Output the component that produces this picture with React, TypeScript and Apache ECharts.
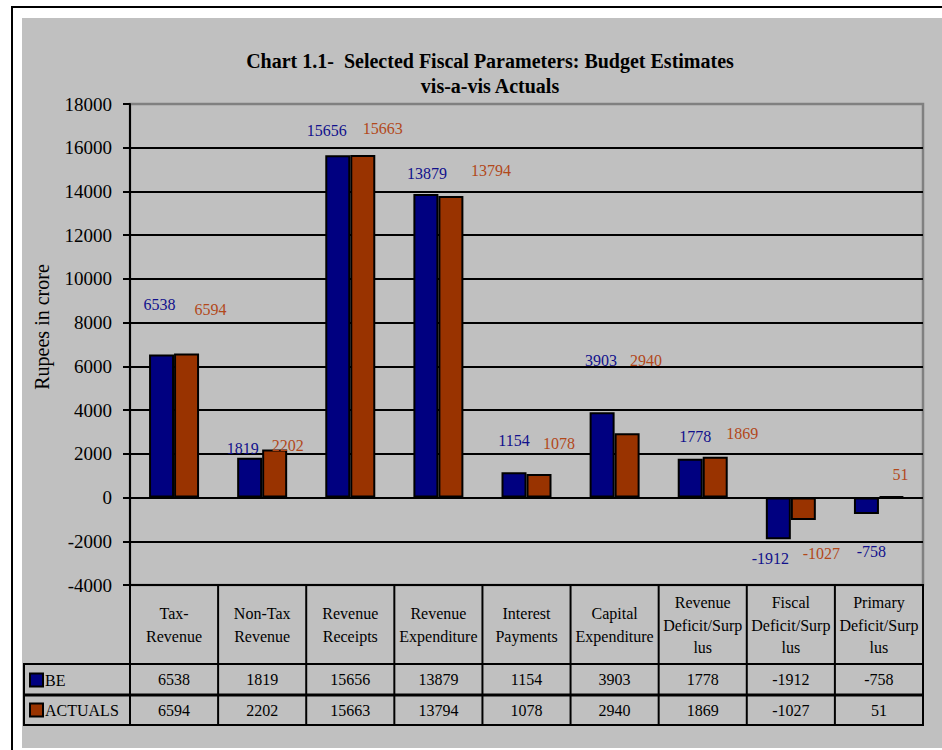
import React, { useEffect, useRef } from "react";
import * as echarts from "echarts";

// ---- data ----
const CATEGORIES = [
  "Tax-\nRevenue",
  "Non-Tax\nRevenue",
  "Revenue\nReceipts",
  "Revenue\nExpenditure",
  "Interest\nPayments",
  "Capital\nExpenditure",
  "Revenue\nDeficit/Surp\nlus",
  "Fiscal\nDeficit/Surp\nlus",
  "Primary\nDeficit/Surp\nlus",
];
const SERIES_NAMES = ["BE", "ACTUALS"];
const BE = [6538, 1819, 15656, 13879, 1154, 3903, 1778, -1912, -758];
const ACTUALS = [6594, 2202, 15663, 13794, 1078, 2940, 1869, -1027, 51];
const Y_MIN = -4000;
const Y_MAX = 18000;
const Y_INTERVAL = 2000;
const TITLE = "Chart 1.1-  Selected Fiscal Parameters: Budget Estimates\nvis-a-vis Actuals";
const Y_NAME = "Rupees in crore";

// ---- layout / style (not data) ----
const FONT = "'Liberation Serif', 'Times New Roman', serif";
const GRID_LEFT = 130;
const GRID_RIGHT_X = 923;
const GRID_TOP = 104;
const GRID_BOTTOM_Y = 585;
const ROW1_Y = 664;
const ROW2_Y = 695;
const ROW3_Y = 725;
const TABLE_LEFT = 24;
const BLUE = "#000080";
const BROWN = "#993300";
const BLUE_TXT = "#10108c";
const BROWN_TXT = "#b2481a";
// manual label placement (Excel-style hand-placed labels), relative to bar centre
const BE_LABEL_OFFSETS = [[-2, -122], [-7, -29], [-11, -196], [1, -172], [0, -44], [-1, -94], [5, -42], [-8, 40], [5, 46]];
const ACT_LABEL_OFFSETS = [[24, -116], [13, -28], [20, -198], [40, -176], [20, -42], [19, -105], [27, -44], [18, 45], [9, -22]];

export default function App() {
  const ref = useRef<HTMLDivElement>(null);

  useEffect(() => {
    document.body.style.margin = "0";
    const chart = echarts.init(ref.current!, null, { renderer: "svg" });

    const mkSeries = (name: string, values: number[], color: string, txt: string, offs: number[][]) => ({
      name,
      type: "bar",
      barWidth: 25,
      barGap: "0%",
      itemStyle: { color, borderColor: "#000", borderWidth: 2 },
      label: {
        show: true,
        position: "inside",
        color: txt,
        fontSize: 16,
        fontFamily: FONT,
        textBorderWidth: 0,
      },
      data: values.map((v, i) => ({ value: v, label: { offset: offs[i] } })),
    });

    const tableAxis = (labels: string[], margin: number) => ({
      type: "category",
      position: "bottom",
      data: labels,
      axisLine: { show: false, onZero: false },
      axisTick: { show: false },
      splitLine: { show: false },
      axisLabel: {
        interval: 0,
        margin,
        verticalAlign: "middle",
        fontSize: 16,
        fontFamily: FONT,
        color: "#000",
      },
    });

    const hLine = (id: string, y: number, w: number) => ({
      id,
      type: "line",
      z: 10,
      shape: { x1: TABLE_LEFT, y1: y, x2: GRID_RIGHT_X + 1, y2: y },
      style: { stroke: "#000", lineWidth: w },
    });

    const baseGraphic: any[] = [
      { id: "bgw", type: "rect", z: -20, silent: true, shape: { x: 12, y: 7, width: 960, height: 780 }, style: { fill: "#fff", stroke: "#000", lineWidth: 2 } },
      { id: "bgg", type: "rect", z: -19, silent: true, shape: { x: 22, y: 18, width: 940, height: 730 }, style: { fill: "#c0c0c0" } },
      {
        id: "yname",
        type: "text",
        x: 42,
        y: 327,
        rotation: Math.PI / 2,
        style: { text: Y_NAME, fontSize: 20, fontFamily: FONT, fill: "#000", align: "center", verticalAlign: "middle" },
      },
      hLine("h1", ROW1_Y, 2),
      hLine("h2", ROW2_Y, 3),
      hLine("h3", ROW3_Y, 2),
      { id: "vl", type: "line", z: 10, shape: { x1: TABLE_LEFT, y1: ROW1_Y - 1, x2: TABLE_LEFT, y2: ROW3_Y + 1 }, style: { stroke: "#000", lineWidth: 2 } },
    ];

    chart.setOption({
      animation: false,
      textStyle: { fontFamily: FONT },
      title: {
        text: TITLE,
        left: 490,
        top: 48,
        padding: 0,
        textAlign: "center",
        textStyle: { fontSize: 20, fontWeight: "bold", lineHeight: 25, color: "#000", fontFamily: FONT },
      },
      legend: {
        orient: "vertical",
        left: 29,
        top: 672,
        padding: 0,
        itemWidth: 13,
        itemHeight: 13,
        itemGap: 14,
        icon: "rect",
        textStyle: { fontSize: 16, color: "#000", fontFamily: FONT, padding: [0, 0, 0, -3] },
        data: SERIES_NAMES,
      },
      grid: {
        left: GRID_LEFT,
        right: 942 - GRID_RIGHT_X,
        top: GRID_TOP,
        bottom: 750 - GRID_BOTTOM_Y,
        show: true,
        borderColor: "#808080",
        borderWidth: 2.5,
        backgroundColor: "transparent",
      },
      xAxis: [
        {
          type: "category",
          position: "bottom",
          data: CATEGORIES,
          axisLine: { show: false, onZero: false },
          axisTick: { show: false },
          splitLine: { show: false },
          axisLabel: {
            interval: 0,
            margin: 40,
            verticalAlign: "middle",
            lineHeight: 22.5,
            fontSize: 16,
            fontFamily: FONT,
            color: "#000",
          },
        },
        tableAxis(BE.map(String), 94),
        tableAxis(ACTUALS.map(String), 125),
      ],
      yAxis: {
        type: "value",
        min: Y_MIN,
        max: Y_MAX,
        interval: Y_INTERVAL,
        axisLine: { show: true, lineStyle: { color: "#000", width: 2 } },
        axisTick: { show: true, length: 7, lineStyle: { color: "#000", width: 2 } },
        axisLabel: { fontSize: 19, color: "#000", margin: 18, fontFamily: FONT, formatter: (v: number) => String(v) },
        splitLine: { show: true, showMaxLine: false, lineStyle: { color: "#000", width: 2 } },
      },
      series: [
        mkSeries(SERIES_NAMES[0], BE, BLUE, BLUE_TXT, BE_LABEL_OFFSETS),
        mkSeries(SERIES_NAMES[1], ACTUALS, BROWN, BROWN_TXT, ACT_LABEL_OFFSETS),
      ],
      graphic: baseGraphic,
    });

    // column separators of the data table, taken from the category axis' bands
    const c0 = chart.convertToPixel({ xAxisIndex: 0 }, CATEGORIES[0]) as number;
    const c1 = chart.convertToPixel({ xAxisIndex: 0 }, CATEGORIES[1]) as number;
    const band = c1 - c0;
    const verticals = [];
    for (let k = 0; k <= CATEGORIES.length; k++) {
      const x = c0 - band / 2 + k * band;
      verticals.push({
        id: "col" + k,
        type: "line",
        z: 10,
        shape: { x1: x, y1: GRID_BOTTOM_Y - 1, x2: x, y2: ROW3_Y + 1 },
        style: { stroke: "#000", lineWidth: 2 },
      });
    }
    chart.setOption({ graphic: [...baseGraphic, ...verticals] });

    return () => chart.dispose();
  }, []);

  return <div ref={ref} style={{ position: "absolute", left: 0, top: 0, width: 942, height: 750 }} />;
}
